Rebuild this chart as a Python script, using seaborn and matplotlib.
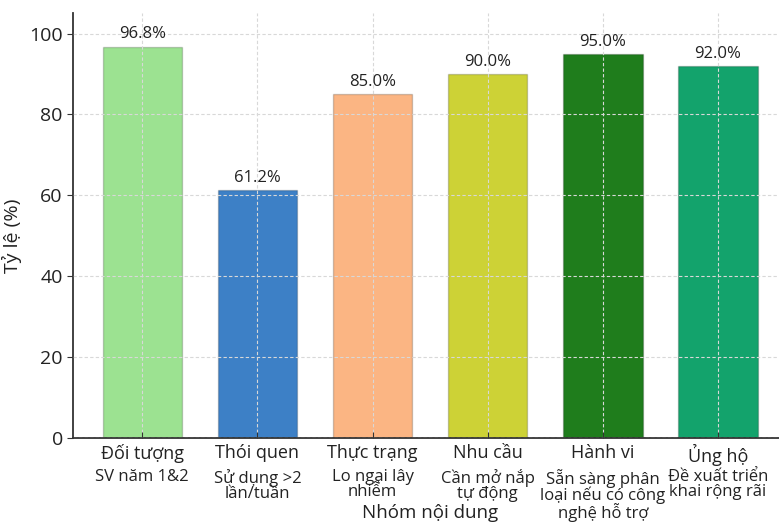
import matplotlib
matplotlib.use("Agg")
from matplotlib import pyplot as plt
import seaborn as sns
import pandas as pd

sns.set_style("whitegrid")
plt.rcParams['font.family'] = ['Open Sans', 'DejaVu Sans']

# data
groups = ["Đối tượng", "Thói quen", "Thực trạng", "Nhu cầu", "Hành vi", "Ủng hộ"]
details = ["SV năm 1&2", "Sử dụng >2\nlần/tuần", "Lo ngại lây\nnhiễm",
           "Cần mở nắp\ntự động", "Sẵn sàng phân\nloại nếu có công\nnghệ hỗ trợ",
           "Đề xuất triển\nkhai rộng rãi"]
values = [96.8, 61.2, 85.0, 90.0, 95.0, 92.0]
colors = ["#9ce291", "#3d80c6", "#fbb583", "#cdd236", "#1f7d1c", "#13a36c"]

df = pd.DataFrame({"group": groups, "value": values})

fig = plt.figure(figsize=(7.79, 5.23), dpi=100)
ax = fig.add_axes([0.094, 0.1625, 0.906, 0.812])

sns.barplot(data=df, x="group", y="value", hue="group", palette=colors,
            legend=False, width=0.69, saturation=1, ax=ax,
            edgecolor="#00000030", linewidth=1)

ax.set_xlim(-0.6, 5.53)
ax.set_ylim(0, 105)
ax.set_yticks([0, 20, 40, 60, 80, 100])
ax.set_axisbelow(False)
ax.grid(True, linestyle=(0, (3, 2)), color="#d8d8d8", linewidth=0.8)

for s in ["top", "right"]:
    ax.spines[s].set_visible(False)
for s in ["left", "bottom"]:
    ax.spines[s].set_color("#333333")
    ax.spines[s].set_linewidth(1.3)

ax.tick_params(axis="y", labelsize=14, left=True, length=4, color="#333333", labelcolor="#222222")
ax.tick_params(axis="x", labelsize=13, bottom=True, direction="in", length=4,
               color="#333333", labelcolor="#222222", pad=4)

# value labels
for i, v in enumerate(values):
    ax.text(i, v + 1, f"{v:.1f}%", ha="center", va="bottom", fontsize=12, color="#222222")

# secondary label lines under each category
for i, d in enumerate(details):
    ax.text(i, -0.073, d, transform=ax.get_xaxis_transform(), ha="center", va="top",
            fontsize=12, color="#222222", linespacing=0.92)

ax.set_xlabel("Nhóm nội dung", fontsize=13.5, color="#222222")
ax.xaxis.set_label_coords(0.505, -0.155)
ax.set_ylabel("Tỷ lệ (%)", fontsize=14, color="#222222")
ax.yaxis.set_label_coords(-0.072, 0.476)

fig.savefig("out.png", dpi=100)
